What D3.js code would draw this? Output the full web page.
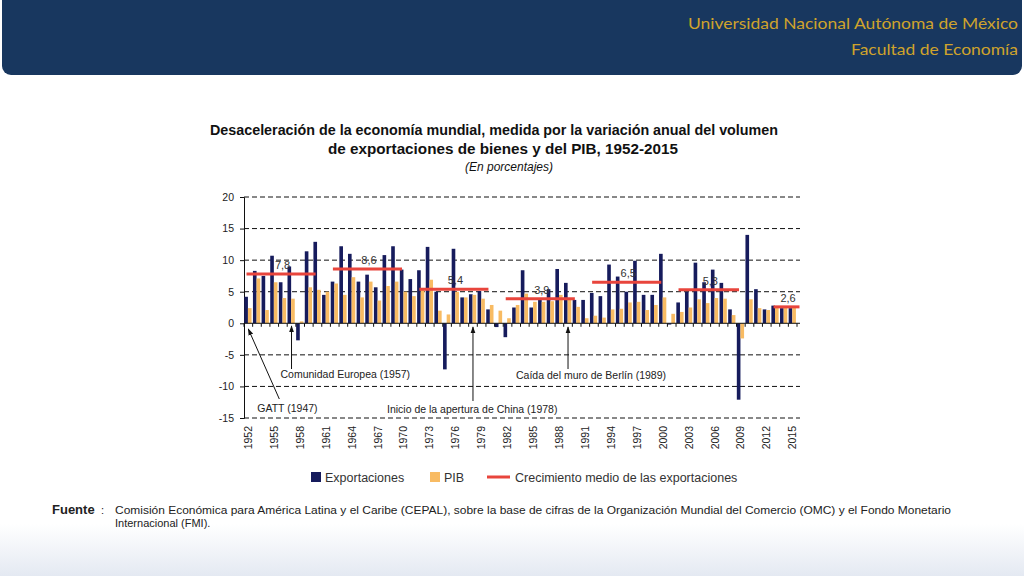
<!DOCTYPE html>
<html>
<head>
<meta charset="utf-8">
<script src="https://cdnjs.cloudflare.com/ajax/libs/d3/7.8.5/d3.min.js"></script>
<style>
  html, body { margin: 0; padding: 0; background: #fff; }
  svg { display: block; font-family: "Liberation Sans", Arial, sans-serif; }
</style>
</head>
<body>
<div id="chart"></div>
<script>
// años y series (variación anual, %)
const years = [1952, 1953, 1954, 1955, 1956, 1957, 1958, 1959, 1960, 1961,
  1962, 1963, 1964, 1965, 1966, 1967, 1968, 1969, 1970, 1971,
  1972, 1973, 1974, 1975, 1976, 1977, 1978, 1979, 1980, 1981,
  1982, 1983, 1984, 1985, 1986, 1987, 1988, 1989, 1990, 1991,
  1992, 1993, 1994, 1995, 1996, 1997, 1998, 1999, 2000, 2001,
  2002, 2003, 2004, 2005, 2006, 2007, 2008, 2009, 2010, 2011,
  2012, 2013, 2014, 2015];

const exportaciones = [4.2, 8.3, 7.5, 10.7, 6.5, 9.0, -2.7, 11.4, 12.9, 4.5,
  6.6, 12.2, 11.0, 6.6, 7.7, 5.7, 10.8, 12.2, 8.5, 7.0,
  8.4, 12.1, 5.0, -7.3, 11.8, 4.1, 4.6, 5.1, 2.2, -0.6,
  -2.2, 2.5, 8.4, 2.5, 3.7, 5.4, 8.6, 6.4, 3.7, 3.7,
  4.8, 4.3, 9.3, 7.4, 5.0, 9.9, 4.5, 4.5, 11.0, -0.2,
  3.3, 5.0, 9.6, 6.5, 8.5, 6.4, 2.2, -12.1, 14.0, 5.4,
  2.2, 2.8, 2.4, 2.4];

const pib = [2.4, 7.1, 2.1, 6.5, 4.0, 3.9, 0.3, 5.7, 5.3, 5.0,
  6.3, 4.5, 7.3, 4.1, 6.6, 3.6, 5.9, 6.6, 5.0, 4.3,
  5.6, 6.9, 2.0, 1.4, 5.0, 4.1, 4.5, 3.9, 2.9, 2.0,
  0.8, 2.9, 4.7, 3.4, 3.4, 3.5, 4.5, 4.0, 2.6, 0.8,
  1.2, 0.9, 2.2, 2.3, 3.3, 3.4, 2.1, 2.9, 4.1, 1.5,
  1.8, 2.5, 3.8, 3.2, 4.0, 3.9, 1.3, -2.4, 3.8, 2.4,
  2.1, 2.5, 2.7, 2.7];

// crecimiento medio de las exportaciones por periodo
const periodoInicio = [1952, 1962, 1972, 1982, 1992, 2002, 2013];
const periodoFin = [1960, 1970, 1980, 1990, 2000, 2009, 2016];
const periodoMedia = [7.8, 8.6, 5.4, 3.9, 6.5, 5.3, 2.6];
const periodoEtiqueta = ["7,8", "8,6", "5,4", "3,9", "6,5", "5,3", "2,6"];

const yTicks = [20, 15, 10, 5, 0, -5, -10, -15];
const xTickYears = [1952, 1955, 1958, 1961, 1964, 1967, 1970, 1973, 1976, 1979,
  1982, 1985, 1988, 1991, 1994, 1997, 2000, 2003, 2006, 2009, 2012, 2015];

const W = 1024, H = 576;
const C_EXP = "#161b5c", C_PIB = "#f8bb63", C_MEDIA = "#e8453c";

const svg = d3.select("#chart").append("svg")
  .attr("width", W).attr("height", H);

// fondo con degradado inferior
const defs = svg.append("defs");
const grad = defs.append("linearGradient").attr("id", "bg").attr("x1", 0).attr("y1", 0).attr("x2", 0).attr("y2", 1);
grad.append("stop").attr("offset", "0%").attr("stop-color", "#ffffff");
grad.append("stop").attr("offset", "91%").attr("stop-color", "#ffffff");
grad.append("stop").attr("offset", "100%").attr("stop-color", "#e4e9f2");
svg.append("rect").attr("width", W).attr("height", H).attr("fill", "url(#bg)");

defs.append("marker").attr("id", "arrow")
  .attr("viewBox", "0 0 10 10").attr("refX", 9).attr("refY", 5)
  .attr("markerWidth", 7).attr("markerHeight", 7).attr("orient", "auto")
  .append("path").attr("d", "M0,1.5 L10,5 L0,8.5 Z").attr("fill", "#111");

// cabecera
svg.append("rect").attr("x", 2).attr("y", -12).attr("width", 1020).attr("height", 87)
  .attr("rx", 9).attr("fill", "#18375f");
const header = svg.append("g").attr("fill", "#cfa32c")
  .style("font-family", "Lato, 'Open Sans', sans-serif").style("font-size", "16px")
  .attr("text-anchor", "end");
header.append("text").attr("x", 1018).attr("y", 29)
  .attr("textLength", 330).attr("lengthAdjust", "spacingAndGlyphs")
  .text("Universidad Nacional Autónoma de México");
header.append("text").attr("x", 1018).attr("y", 55)
  .attr("textLength", 167).attr("lengthAdjust", "spacingAndGlyphs")
  .text("Facultad de Economía");

// títulos
const title = svg.append("g").attr("fill", "#111").attr("text-anchor", "middle");
title.append("text").attr("x", 494).attr("y", 135)
  .style("font-size", "14px").style("font-weight", "bold")
  .attr("textLength", 568).attr("lengthAdjust", "spacingAndGlyphs")
  .text("Desaceleración de la economía mundial, medida por la variación anual del volumen");
title.append("text").attr("x", 503).attr("y", 154)
  .style("font-size", "14px").style("font-weight", "bold")
  .attr("textLength", 350).attr("lengthAdjust", "spacingAndGlyphs")
  .text("de exportaciones de bienes y del PIB, 1952-2015");
title.append("text").attr("x", 509).attr("y", 171)
  .style("font-size", "12px").style("font-style", "italic")
  .text("(En porcentajes)");

// escalas
const x = d3.scaleBand().domain(years).range([244, 797]).padding(0);
const y = d3.scaleLinear().domain([-15, 20]).range([418, 197]);
const bw = x.bandwidth();
const xAt = yr => x.range()[0] + (yr - years[0]) * x.step();

const plot = svg.append("g");

// líneas de cuadrícula discontinuas
plot.append("g").selectAll("line")
  .data(yTicks.filter(d => d !== 0))
  .join("line")
  .attr("x1", 244).attr("x2", 800)
  .attr("y1", d => y(d)).attr("y2", d => y(d))
  .attr("stroke", "#111").attr("stroke-width", 1)
  .attr("stroke-dasharray", "5,3");

// eje Y
const yAxis = plot.append("g").attr("transform", "translate(244,0)")
  .call(d3.axisLeft(y).tickValues(yTicks).tickSize(4).tickPadding(6).tickFormat(d => String(d)));
yAxis.select(".domain").attr("stroke", "#111");
yAxis.selectAll(".tick line").attr("stroke", "#111");
yAxis.selectAll("text").style("font-size", "10.5px").attr("fill", "#222")
  .style("font-family", "'Liberation Sans', Arial, sans-serif");

// barras
const rows = years.map((yr, i) => ({ yr, exp: exportaciones[i], pib: pib[i] }));
plot.append("g").selectAll("rect")
  .data(rows).join("rect")
  .attr("x", d => x(d.yr) + 0.3)
  .attr("width", bw * 0.42)
  .attr("y", d => y(Math.max(0, d.exp)))
  .attr("height", d => Math.abs(y(d.exp) - y(0)))
  .attr("fill", C_EXP);
plot.append("g").selectAll("rect")
  .data(rows).join("rect")
  .attr("x", d => x(d.yr) + 0.3 + bw * 0.42)
  .attr("width", bw * 0.42)
  .attr("y", d => y(Math.max(0, d.pib)))
  .attr("height", d => Math.abs(y(d.pib) - y(0)))
  .attr("fill", C_PIB);

// eje X en cero con marcas
plot.append("line").attr("x1", 244).attr("x2", 800)
  .attr("y1", y(0)).attr("y2", y(0)).attr("stroke", "#111");
plot.append("g").selectAll("line")
  .data(years.concat([2016])).join("line")
  .attr("x1", d => xAt(d)).attr("x2", d => xAt(d))
  .attr("y1", y(0)).attr("y2", y(0) + 3.5)
  .attr("stroke", "#111");

// etiquetas de años (verticales)
plot.append("g").selectAll("text")
  .data(xTickYears).join("text")
  .attr("transform", d => `translate(${x(d) + bw / 2 + 3.6},${y(-15) + 8}) rotate(-90)`)
  .attr("text-anchor", "end")
  .style("font-size", "10.5px").attr("fill", "#222")
  .text(d => d);

// crecimiento medio por periodo
const medias = periodoMedia.map((m, i) => ({
  ini: periodoInicio[i], fin: periodoFin[i], m, lab: periodoEtiqueta[i]
}));
plot.append("g").selectAll("line")
  .data(medias).join("line")
  .attr("x1", d => xAt(d.ini) + 2.5).attr("x2", d => xAt(d.fin) + 2.5)
  .attr("y1", d => y(d.m)).attr("y2", d => y(d.m))
  .attr("stroke", C_MEDIA).attr("stroke-width", 3);
plot.append("g").selectAll("text")
  .data(medias).join("text")
  .attr("x", d => (xAt(d.ini) + xAt(d.fin)) / 2 + 4)
  .attr("y", d => y(d.m) - 5)
  .attr("text-anchor", "middle")
  .style("font-size", "11px").attr("fill", "#333")
  .text(d => d.lab);

// anotaciones históricas
const notas = [
  { txt: "GATT (1947)", yr: 1952, tx: 9, ty: 412, fx: 31, fy: 399, tipY: 329 },
  { txt: "Comunidad Europea (1957)", yr: 1957, tx: -11, ty: 378, fx: 0, fy: 369, tipY: 326 },
  { txt: "Inicio de la apertura de China (1978)", yr: 1978, tx: -86, ty: 413, fx: 0, fy: 401, tipY: 327 },
  { txt: "Caída del muro de Berlín (1989)", yr: 1989, tx: -52, ty: 379, fx: 0, fy: 369, tipY: 327 }
];
const ann = plot.append("g");
notas.forEach(n => {
  const cx = x(n.yr) + bw / 2;
  ann.append("line")
    .attr("x1", cx + n.fx).attr("y1", n.fy)
    .attr("x2", cx).attr("y2", n.tipY)
    .attr("stroke", "#111").attr("stroke-width", 1)
    .attr("marker-end", "url(#arrow)");
  ann.append("text")
    .attr("x", cx + n.tx).attr("y", n.ty)
    .style("font-size", "10.5px").attr("fill", "#222")
    .text(n.txt);
});

// leyenda
const ley = svg.append("g").style("font-size", "12.5px").attr("fill", "#333");
ley.append("rect").attr("x", 311).attr("y", 472).attr("width", 10).attr("height", 10).attr("fill", C_EXP);
ley.append("text").attr("x", 325).attr("y", 481.5).text("Exportaciones");
ley.append("rect").attr("x", 430).attr("y", 472).attr("width", 10).attr("height", 10).attr("fill", C_PIB);
ley.append("text").attr("x", 444).attr("y", 481.5).text("PIB");
ley.append("line").attr("x1", 487).attr("x2", 510).attr("y1", 477).attr("y2", 477)
  .attr("stroke", C_MEDIA).attr("stroke-width", 3);
ley.append("text").attr("x", 515).attr("y", 481.5).text("Crecimiento medio de las exportaciones");

// fuente
const fuente = svg.append("g").style("font-size", "11px").attr("fill", "#222");
fuente.append("text").attr("x", 52).attr("y", 514)
  .style("font-weight", "bold").style("font-size", "13px")
  .text("Fuente");
fuente.append("text").attr("x", 101).attr("y", 514).text(":");
fuente.append("text").attr("x", 115).attr("y", 514)
  .attr("textLength", 836).attr("lengthAdjust", "spacingAndGlyphs")
  .text("Comisión Económica para América Latina y el Caribe (CEPAL), sobre la base de cifras de la Organización Mundial del Comercio (OMC) y el Fondo Monetario");
fuente.append("text").attr("x", 115).attr("y", 527)
  .text("Internacional (FMI).");
</script>
</body>
</html>
